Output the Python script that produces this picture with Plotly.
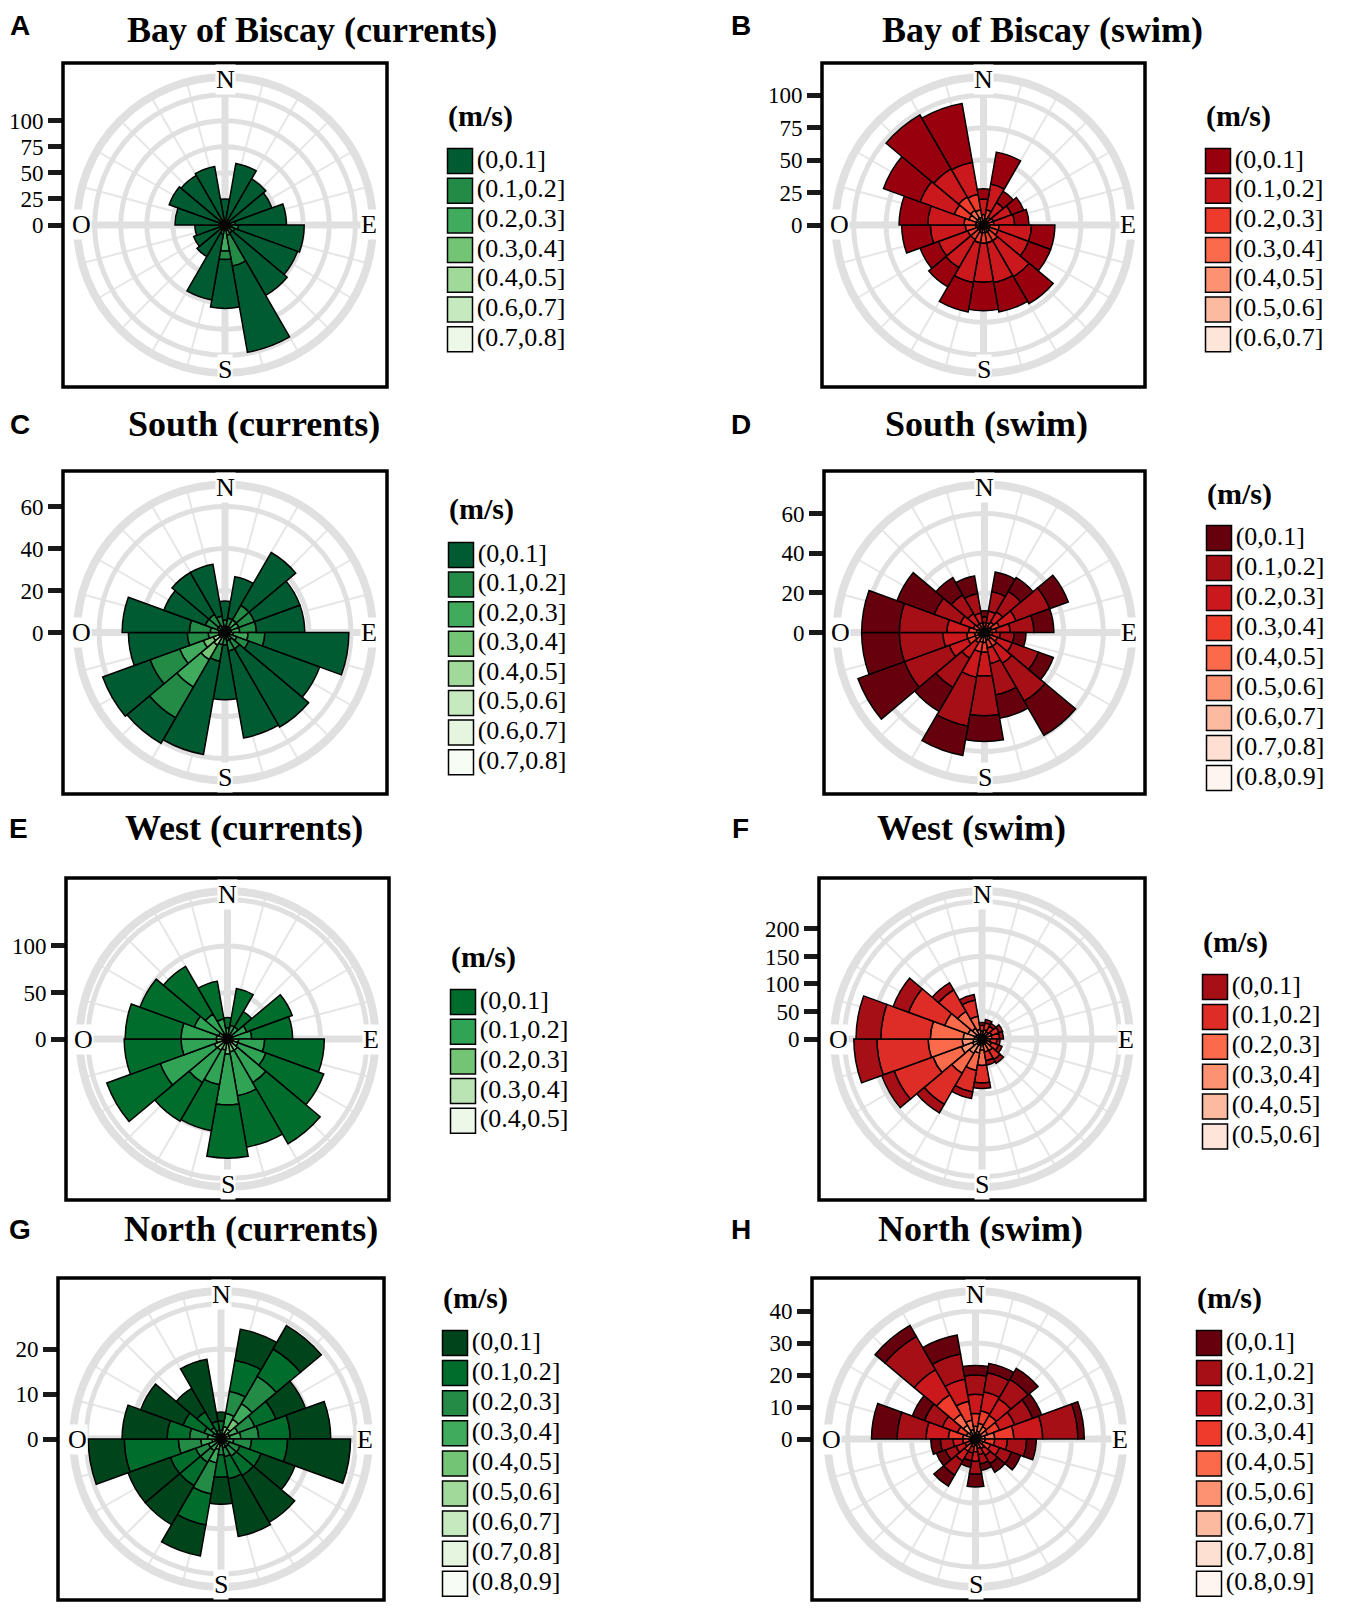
import plotly.graph_objects as go

W, H = 1355, 1612
SERIF = "Liberation Serif, Times New Roman, serif"
SANS = "Liberation Sans, Arial, sans-serif"
GRID = "#e0e0e0"
OFF = 8  # the page body adds this much margin around the figure

# centre of each 20-degree direction sector (degrees, clockwise from north)
sectors = [0, 20, 40, 60, 80, 100, 120, 140, 160, 180, 200, 220, 240, 260, 280, 300, 320, 340]
compass = ["N", "E", "S", "O"]

speeds_a = ["(0,0.1]", "(0.1,0.2]", "(0.2,0.3]", "(0.3,0.4]", "(0.4,0.5]", "(0.6,0.7]", "(0.7,0.8]"]
speeds_5 = ["(0,0.1]", "(0.1,0.2]", "(0.2,0.3]", "(0.3,0.4]", "(0.4,0.5]"]
speeds_6 = ["(0,0.1]", "(0.1,0.2]", "(0.2,0.3]", "(0.3,0.4]", "(0.4,0.5]", "(0.5,0.6]"]
speeds_7 = ["(0,0.1]", "(0.1,0.2]", "(0.2,0.3]", "(0.3,0.4]", "(0.4,0.5]", "(0.5,0.6]", "(0.6,0.7]"]
speeds_8 = ["(0,0.1]", "(0.1,0.2]", "(0.2,0.3]", "(0.3,0.4]", "(0.4,0.5]", "(0.5,0.6]", "(0.6,0.7]",
            "(0.7,0.8]"]
speeds_9 = ["(0,0.1]", "(0.1,0.2]", "(0.2,0.3]", "(0.3,0.4]", "(0.4,0.5]", "(0.5,0.6]", "(0.6,0.7]",
            "(0.7,0.8]", "(0.8,0.9]"]

greens_5 = ["#006D2C", "#31A354", "#74C476", "#BAE4B3", "#EDF8E9"]
greens_7 = ["#005A32", "#238B45", "#41AB5D", "#74C476", "#A1D99B", "#C7E9C0", "#EDF8E9"]
greens_8 = ["#005A32", "#238B45", "#41AB5D", "#74C476", "#A1D99B", "#C7E9C0", "#E5F5E0", "#F7FCF5"]
greens_9 = ["#00441B", "#006D2C", "#238B45", "#41AB5D", "#74C476", "#A1D99B", "#C7E9C0", "#E5F5E0",
            "#F7FCF5"]
reds_6 = ["#A50F15", "#DE2D26", "#FB6A4A", "#FC9272", "#FCBBA1", "#FEE5D9"]
reds_7 = ["#99000D", "#CB181D", "#EF3B2C", "#FB6A4A", "#FC9272", "#FCBBA1", "#FEE5D9"]
reds_9 = ["#67000D", "#A50F15", "#CB181D", "#EF3B2C", "#FB6A4A", "#FC9272", "#FCBBA1", "#FEE0D2",
          "#FFF5F0"]

# counts per sector, one row per speed class (slowest first)
biscay_currents = [
    [20, 56, 47, 43, 49, 63, 64, 69, 84, 47, 64, 30, 28, 25, 44, 53, 51, 53],
    [4, 3, 3, 3, 5, 6, 6, 6, 30, 8, 6, 4, 3, 3, 3, 3, 3, 3],
    [1, 1, 1, 1, 3, 4, 3, 2, 6, 20, 2, 1, 1, 1, 1, 1, 1, 1],
    [0, 0, 0, 1, 1, 2, 1, 1, 2, 2, 1, 0, 0, 0, 0, 0, 0, 0],
    [0, 0, 0, 0, 1, 1, 0, 0, 1, 1, 0, 0, 0, 0, 0, 0, 0, 0],
    [0, 0, 0, 0, 0, 0, 0, 0, 1, 1, 0, 0, 0, 0, 0, 0, 0, 0],
    [0, 0, 0, 0, 0, 0, 0, 0, 0, 1, 0, 0, 0, 0, 0, 0, 0, 0],
]
biscay_swim = [
    [8, 25, 10, 10, 11, 18, 18, 24, 23, 22, 23, 17, 15, 22, 22, 30, 48, 46],
    [12, 20, 13, 15, 16, 25, 25, 32, 31, 30, 31, 25, 24, 27, 28, 28, 25, 25],
    [5, 7, 4, 5, 5, 7, 7, 8, 8, 8, 8, 8, 8, 8, 9, 12, 12, 12],
    [2, 3, 2, 2, 2, 3, 3, 3, 3, 3, 3, 3, 3, 3, 3, 6, 7, 6],
    [1, 2, 1, 1, 1, 2, 2, 2, 2, 2, 2, 2, 2, 2, 2, 4, 4, 4],
    [0, 0, 0, 0, 0, 0, 0, 1, 1, 1, 1, 0, 0, 1, 1, 1, 1, 1],
    [0, 0, 0, 0, 0, 0, 0, 0, 0, 0, 0, 0, 0, 0, 0, 1, 1, 1],
]
south_currents = [
    [9, 20, 29, 23, 23, 40, 36, 43, 42, 26, 45, 14, 24, 28, 32, 21, 23, 25],
    [3, 4, 8, 8, 8, 8, 6, 5, 5, 3, 8, 17, 15, 10, 10, 6, 6, 5],
    [2, 2, 4, 4, 4, 7, 4, 3, 3, 2, 4, 15, 12, 5, 4, 3, 3, 2],
    [1, 1, 2, 2, 2, 3, 2, 1, 1, 1, 2, 8, 5, 2, 2, 1, 1, 1],
    [0, 0, 1, 1, 1, 1, 0, 0, 0, 0, 0, 4, 3, 1, 1, 0, 0, 0],
    [0, 0, 0, 0, 0, 0, 0, 0, 0, 0, 0, 2, 1, 0, 0, 0, 0, 0],
    [0, 0, 0, 0, 0, 0, 0, 0, 0, 0, 0, 1, 1, 0, 0, 0, 0, 0],
    [0, 0, 0, 0, 0, 0, 0, 0, 0, 0, 0, 0, 1, 0, 0, 0, 0, 0],
]
south_swim = [
    [3, 10, 8, 10, 10, 6, 8, 20, 12, 13, 15, 14, 25, 19, 19, 20, 10, 9],
    [3, 10, 12, 18, 12, 7, 14, 22, 16, 20, 25, 17, 24, 22, 24, 14, 11, 10],
    [2, 6, 6, 9, 7, 4, 8, 10, 8, 12, 13, 9, 10, 12, 11, 7, 6, 5],
    [2, 3, 3, 4, 3, 2, 4, 4, 4, 5, 5, 3, 4, 4, 4, 3, 3, 3],
    [1, 2, 2, 2, 2, 1, 2, 2, 2, 3, 3, 2, 2, 2, 2, 2, 1, 1],
    [0, 0, 1, 1, 1, 1, 1, 1, 1, 1, 1, 1, 1, 1, 1, 1, 1, 1],
    [0, 0, 0, 1, 0, 0, 0, 1, 1, 1, 1, 0, 1, 1, 1, 0, 0, 0],
    [0, 0, 0, 0, 0, 0, 0, 0, 0, 0, 0, 0, 1, 0, 0, 0, 0, 0],
    [0, 0, 0, 0, 0, 0, 0, 0, 0, 0, 0, 0, 0, 1, 0, 0, 0, 0],
]
west_currents = [
    [11, 40, 19, 52, 44, 64, 66, 76, 56, 57, 50, 48, 61, 61, 60, 62, 59, 41],
    [8, 10, 10, 16, 20, 28, 32, 40, 48, 55, 38, 40, 62, 38, 38, 28, 24, 16],
    [3, 4, 4, 5, 5, 10, 10, 12, 12, 12, 10, 12, 12, 10, 10, 8, 6, 5],
    [1, 1, 1, 1, 1, 2, 2, 2, 2, 3, 2, 2, 2, 2, 2, 2, 1, 1],
    [0, 0, 0, 0, 0, 0, 0, 0, 0, 1, 0, 0, 1, 0, 0, 0, 0, 0],
]
west_swim = [
    [5, 6, 6, 7, 7, 6, 7, 8, 8, 10, 12, 18, 24, 42, 45, 30, 15, 10],
    [10, 13, 12, 14, 14, 12, 14, 18, 16, 32, 40, 65, 75, 93, 90, 70, 45, 30],
    [8, 9, 8, 10, 10, 8, 10, 15, 14, 28, 32, 42, 55, 62, 60, 45, 35, 24],
    [4, 5, 4, 5, 5, 4, 5, 6, 6, 12, 14, 18, 22, 20, 20, 15, 13, 10],
    [2, 2, 2, 3, 2, 2, 2, 3, 3, 5, 8, 8, 12, 10, 9, 8, 6, 5],
    [1, 1, 1, 1, 1, 1, 1, 1, 1, 3, 4, 4, 6, 6, 5, 4, 4, 3],
]
north_currents = [
    [2, 7, 6, 7, 9, 14, 8, 12, 13, 6, 7, 10, 10, 8, 10, 10, 6, 14],
    [2, 7, 7, 5, 7, 8, 5, 5, 5, 5, 7, 6, 6, 12, 5, 5, 4, 2],
    [1, 5, 7, 4, 4, 4, 2.5, 2.4, 2, 2, 7, 3, 3, 5, 4, 2, 1.5, 1],
    [0.5, 3, 4, 2, 2.4, 1.8, 1, 1, 1, 1, 3, 2, 2, 2.5, 2, 1, 1, 0.5],
    [0.5, 1.5, 2.5, 1, 1, 1, 1, 1, 1, 0.5, 1.4, 1, 1, 1, 1, 1, 0.5, 0.5],
    [0, 1, 1.2, 1, 1, 0, 0, 0, 0, 0, 1, 0, 0, 1, 0, 0, 0, 0],
    [0, 0, 1, 0, 0, 0, 0, 0, 0, 0, 0, 0, 0, 0, 0, 0, 0, 0],
    [0, 0, 0.4, 0, 0, 0, 0, 0, 0, 0, 0, 0, 0, 0, 0, 0, 0, 0],
    [0, 0.3, 0, 0, 0, 0, 0, 0, 0, 0, 0, 0, 0, 0, 0, 0, 0, 0],
]
north_swim = [
    [3, 3, 4, 3, 2, 3, 3, 3, 2, 4, 2, 4, 3, 3, 8, 4, 4, 6],
    [6, 6, 7, 6, 11, 6, 4, 3, 3, 4, 2.5, 5, 3.5, 4, 9, 6, 12, 8],
    [6, 6, 6, 5, 9, 4, 3, 2.5, 2, 3, 2, 3.5, 3, 3, 7, 5, 9, 7],
    [4, 4, 4, 4, 6, 3, 2.5, 2, 1.5, 2, 1.5, 2.5, 2, 2, 4.5, 3, 7, 6],
    [2, 2.5, 2.5, 2, 3, 1.5, 1.5, 1, 1, 1, 0.6, 1, 1, 1, 2.5, 1.5, 4, 3],
    [1, 1.5, 1.2, 1.2, 1.5, 1, 0.5, 0.5, 0.5, 0.5, 0.4, 0.5, 0.5, 0.5, 1, 1, 2.5, 1.5],
    [0.6, 0.6, 0.5, 0.5, 1, 0.5, 0.5, 0, 0, 0.5, 0, 0.5, 0, 0.5, 0.5, 0.5, 1.5, 1],
    [0.4, 0.4, 0.3, 0.3, 0.5, 0, 0, 0, 0, 0, 0, 0, 0, 0, 0, 0, 0.6, 0.5],
    [0, 0, 0, 0, 0, 0, 0, 0, 0, 0, 0, 0, 0, 0, 0, 0, 0.4, 0],
]

ticks_a = [0, 25, 50, 75, 100]
ticks_b = [0, 25, 50, 75, 100]
ticks_c = [0, 20, 40, 60]
ticks_d = [0, 20, 40, 60]
ticks_e = [0, 50, 100]
ticks_f = [0, 50, 100, 150, 200]
ticks_g = [0, 10, 20]
ticks_h = [0, 10, 20, 30, 40]

# geometry in page pixels: box (left, top, right, bottom), outer radius in data units,
# legend swatch centre x, first swatch y, swatch pitch, "(m/s)" y, title x/y (None = top row),
# letter x
panels = [
    dict(letter="A", title="Bay of Biscay (currents)", data=biscay_currents, speeds=speeds_a,
         colors=greens_7, ticks=ticks_a, box=(63, 63, 387, 387), rmax=142,
         leg=(460, 161, 29.7, 116), title_xy=(312, None), letter_x=20),
    dict(letter="B", title="Bay of Biscay (swim)", data=biscay_swim, speeds=speeds_7,
         colors=reds_7, ticks=ticks_b, box=(822, 63, 1145, 387), rmax=114,
         leg=(1218, 161, 29.7, 116), title_xy=(1042, None), letter_x=741),
    dict(letter="C", title="South (currents)", data=south_currents, speeds=speeds_8,
         colors=greens_8, ticks=ticks_c, box=(63, 471, 387, 794), rmax=70.5,
         leg=(461, 555, 29.6, 509), title_xy=(254, 424), letter_x=20),
    dict(letter="D", title="South (swim)", data=south_swim, speeds=speeds_9,
         colors=reds_9, ticks=ticks_d, box=(824, 471, 1145, 794), rmax=74.7,
         leg=(1219, 538, 30.0, 494), title_xy=(986, 424), letter_x=741),
    dict(letter="E", title="West (currents)", data=west_currents, speeds=speeds_5,
         colors=greens_5, ticks=ticks_e, box=(66, 878, 389, 1200), rmax=159,
         leg=(463, 1002, 29.7, 957), title_xy=(244, 828), letter_x=18),
    dict(letter="F", title="West (swim)", data=west_swim, speeds=speeds_6,
         colors=reds_6, ticks=ticks_f, box=(819, 878, 1145, 1200), rmax=269,
         leg=(1215, 987, 29.9, 942), title_xy=(971, 828), letter_x=740),
    dict(letter="G", title="North (currents)", data=north_currents, speeds=speeds_9,
         colors=greens_9, ticks=ticks_g, box=(58, 1278, 384, 1600), rmax=32.9,
         leg=(455, 1343, 30.1, 1298), title_xy=(251, 1229), letter_x=20),
    dict(letter="H", title="North (swim)", data=north_swim, speeds=speeds_9,
         colors=reds_9, ticks=ticks_h, box=(812, 1278, 1139, 1600), rmax=46.25,
         leg=(1209, 1343, 30.1, 1298), title_xy=(980, 1229), letter_x=741),
]

R_PX = 148  # radius of the rose in pixels


def fx(px):
    return (px - OFF) / W


def fy(py):
    return 1 - (py - OFF) / H


fig = go.Figure()
layout = {}
annotations = []
shapes = []

for i, p in enumerate(panels):
    l, t, r, b = p["box"]
    cx, cy = (l + r) / 2, (t + b) / 2
    rmax = p["rmax"]
    step = p["ticks"][1] - p["ticks"][0]
    dom_x = [fx(cx - R_PX), fx(cx + R_PX)]
    dom_y = [fy(cy + R_PX), fy(cy - R_PX)]

    bg_id = "polar" if i == 0 else "polar%d" % (i + 1)
    data_id = "polar%d" % (i + 9)

    # background rose: rings, spokes and the thick compass cross
    layout[bg_id] = dict(
        domain=dict(x=dom_x, y=dom_y), bgcolor="white",
        angularaxis=dict(rotation=90, direction="clockwise", dtick=15, showticklabels=False,
                         ticks="", showline=True, linecolor=GRID, linewidth=8,
                         gridcolor="#e6e6e6", gridwidth=1.5),
        radialaxis=dict(range=[0, rmax], dtick=step, tick0=0, showticklabels=False, ticks="",
                        showline=False, gridcolor=GRID, gridwidth=5),
    )
    for th in ([0, 180], [90, 270]):
        fig.add_trace(go.Scatterpolar(r=[rmax, rmax], theta=th, mode="lines",
                                      line=dict(color=GRID, width=7), subplot=bg_id,
                                      hoverinfo="skip", showlegend=False))

    # data rose, stacked with the fastest class in the middle
    layout[data_id] = dict(
        domain=dict(x=dom_x, y=dom_y), bgcolor="rgba(0,0,0,0)", bargap=0, barmode="stack",
        angularaxis=dict(rotation=90, direction="clockwise", showticklabels=False, ticks="",
                         showline=False, showgrid=False),
        radialaxis=dict(range=[0, rmax], showticklabels=False, ticks="", showline=False,
                        showgrid=False),
    )
    for j in reversed(range(len(p["speeds"]))):
        fig.add_trace(go.Barpolar(r=p["data"][j], theta=sectors, width=20, name=p["speeds"][j],
                                  marker=dict(color=p["colors"][j],
                                              line=dict(color="black", width=1.5)),
                                  subplot=data_id, showlegend=False))

    # count scale drawn to the left of the box
    k = 2 * i + 1
    xa = "xaxis" if k == 1 else "xaxis%d" % k
    ya = "yaxis" if k == 1 else "yaxis%d" % k
    layout[xa] = dict(domain=[fx(l), fx(r)], range=[0, 1], visible=False, fixedrange=True)
    layout[ya] = dict(domain=dom_y, range=[-rmax, rmax], anchor="x" if k == 1 else "x%d" % k,
                      tickvals=p["ticks"], ticktext=[str(v) for v in p["ticks"]],
                      ticks="outside", ticklen=14, tickwidth=5, tickcolor="#1a1a1a",
                      showgrid=False, zeroline=False, showline=False, fixedrange=True,
                      tickfont=dict(family=SERIF, size=23, color="black"))
    fig.add_trace(go.Scatter(x=[0] * len(p["ticks"]), y=p["ticks"], mode="markers",
                             marker=dict(opacity=0), xaxis="x" if k == 1 else "x%d" % k,
                             yaxis="y" if k == 1 else "y%d" % k, hoverinfo="skip",
                             showlegend=False))

    # legend as a column of swatches
    k2 = 2 * i + 2
    sx, sy, pitch, unit_y = p["leg"]
    n = len(p["speeds"])
    layout["xaxis%d" % k2] = dict(domain=[fx(sx - 15), fx(sx + 115)], range=[-15, 115],
                                  visible=False, fixedrange=True)
    layout["yaxis%d" % k2] = dict(domain=[fy(sy - pitch / 2 + n * pitch), fy(sy - pitch / 2)],
                                  range=[n - 0.5, -0.5], anchor="x%d" % k2, visible=False,
                                  fixedrange=True)
    fig.add_trace(go.Scatter(x=[0] * n, y=list(range(n)), mode="markers+text",
                             marker=dict(symbol="square", size=25, color=p["colors"],
                                         line=dict(color="black", width=1.5)),
                             text=p["speeds"], textposition="middle right",
                             textfont=dict(family=SERIF, size=26, color="black"),
                             cliponaxis=False, xaxis="x%d" % k2, yaxis="y%d" % k2,
                             hoverinfo="skip", showlegend=False))
    annotations.append(dict(x=fx(sx - 14), y=fy(unit_y), xref="paper", yref="paper",
                            text="<b>(m/s)</b>", showarrow=False, xanchor="left",
                            yanchor="middle", font=dict(family=SERIF, size=30, color="black")))

    # compass letters sitting on the outer ring
    for lab, (dx, dy) in zip(compass, [(0, -145), (144, 0), (0, 145), (-144, 0)]):
        annotations.append(dict(x=fx(cx + dx), y=fy(cy + dy), xref="paper", yref="paper",
                                text=lab, showarrow=False, bgcolor="white", borderpad=0,
                                xanchor="center", yanchor="middle",
                                font=dict(family=SERIF, size=26, color="black")))

    tx, ty = p["title_xy"]
    if ty is None:
        # top row sits against the upper edge of the figure
        ty_paper, anchor = 1, "top"
    else:
        ty_paper, anchor = fy(ty), "middle"
    annotations.append(dict(x=fx(tx), y=ty_paper, xref="paper", yref="paper",
                            text="<b>%s</b>" % p["title"], showarrow=False,
                            xanchor="center", yanchor=anchor,
                            font=dict(family=SERIF, size=36, color="black")))
    annotations.append(dict(x=fx(p["letter_x"]), y=ty_paper, xref="paper", yref="paper",
                            text="<b>%s</b>" % p["letter"], showarrow=False,
                            xanchor="center", yanchor=anchor,
                            font=dict(family=SANS, size=28, color="black")))

    shapes.append(dict(type="rect", xref="paper", yref="paper", x0=fx(l), x1=fx(r),
                       y0=fy(b), y1=fy(t), line=dict(color="black", width=3.5),
                       layer="above"))

fig.update_layout(
    width=W, height=H, margin=dict(l=0, r=0, t=0, b=0),
    paper_bgcolor="white", plot_bgcolor="rgba(0,0,0,0)", showlegend=False,
    annotations=annotations, shapes=shapes, **layout,
)

fig.write_html("out.html")
